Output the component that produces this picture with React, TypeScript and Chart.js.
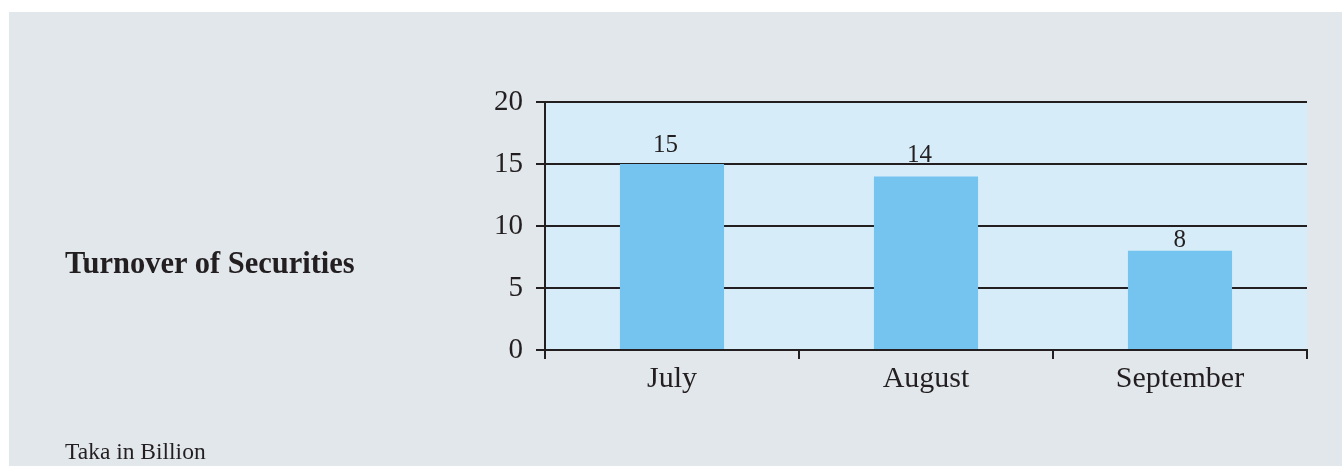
import React, { useEffect, useRef } from "react";
import { Chart, registerables } from "chart.js";

Chart.register(...registerables);

const categories: string[] = ["July", "August", "September"];
const turnover: number[] = [15, 14, 8];
const yTickValues: number[] = [0, 5, 10, 15, 20];
const labelLift: number[] = [12, 14, 4];

const GRAY = "#e2e7eb";
const PLOT_BG = "#d6edf9";
const BAR = "#75c4ef";
const INK = "#231f20";
const FONT = "'Liberation Serif', 'Times New Roman', serif";

const plotBgPlugin = {
  id: "plotBg",
  beforeDraw(chart: any) {
    const { ctx, chartArea } = chart;
    ctx.save();
    ctx.fillStyle = PLOT_BG;
    ctx.fillRect(chartArea.left, chartArea.top, chartArea.right - chartArea.left, chartArea.bottom - chartArea.top);
    ctx.restore();
  },
};

const valueLabelPlugin = {
  id: "valueLabels",
  afterDatasetsDraw(chart: any) {
    const { ctx } = chart;
    const meta = chart.getDatasetMeta(0);
    ctx.save();
    ctx.fillStyle = INK;
    ctx.font = `25px ${FONT}`;
    ctx.textAlign = "right";
    ctx.textBaseline = "alphabetic";
    meta.data.forEach((bar: any, i: number) => {
      ctx.fillText(String(turnover[i]), bar.x + 6, bar.y - labelLift[i]);
    });
    ctx.restore();
  },
};

export default function App() {
  const ref = useRef<HTMLCanvasElement | null>(null);

  useEffect(() => {
    if (!ref.current) return;
    const chart = new Chart(ref.current, {
      type: "bar",
      data: {
        labels: categories,
        datasets: [
          {
            data: turnover,
            backgroundColor: BAR,
            borderWidth: 0,
            categoryPercentage: 1,
            barPercentage: 0.41,
          },
        ],
      },
      options: {
        animation: false,
        responsive: false,
        maintainAspectRatio: false,
        layout: { padding: { left: 456, right: 35, top: 90, bottom: 0 } },
        plugins: {
          legend: { display: false },
          tooltip: { enabled: false },
          title: { display: false },
        },
        scales: {
          x: {
            offset: true,
            grid: {
              display: true,
              offset: true,
              drawOnChartArea: false,
              drawTicks: true,
              tickLength: 9,
              color: INK,
              lineWidth: 2,
            },
            border: { display: true, color: INK, width: 2 },
            ticks: {
              color: INK,
              padding: 2,
              font: { family: FONT, size: 30 },
              maxRotation: 0,
            },
            afterFit(scale: any) {
              scale.height = 116;
            },
          },
          y: {
            min: 0,
            max: 20,
            afterBuildTicks(scale: any) {
              scale.ticks = yTickValues.map((v) => ({ value: v }));
            },
            grid: {
              display: true,
              drawOnChartArea: true,
              drawTicks: true,
              tickLength: 9,
              color: INK,
              lineWidth: 2,
            },
            border: { display: true, color: INK, width: 2 },
            ticks: {
              color: INK,
              padding: 13,
              font: { family: FONT, size: 29 },
            },
            afterFit(scale: any) {
              scale.width = 80;
            },
          },
        },
      },
      plugins: [plotBgPlugin, valueLabelPlugin],
    });
    return () => chart.destroy();
  }, []);

  return (
    <div
      style={{
        position: "absolute",
        left: 9,
        top: 12,
        width: 1333,
        height: 454,
        background: GRAY,
        overflow: "hidden",
      }}
    >
      <canvas ref={ref} width={1333} height={454} style={{ position: "absolute", left: 0, top: 0 }} />
      <div
        style={{
          position: "absolute",
          left: 56,
          top: 236,
          fontFamily: FONT,
          fontWeight: "bold",
          fontSize: 30.5,
          lineHeight: "30px",
          color: INK,
          whiteSpace: "nowrap",
        }}
      >
        Turnover of Securities
      </div>
      <div
        style={{
          position: "absolute",
          left: 56,
          top: 428,
          fontFamily: FONT,
          fontSize: 23.5,
          lineHeight: "23px",
          color: INK,
          whiteSpace: "nowrap",
        }}
      >
        Taka in Billion
      </div>
    </div>
  );
}
